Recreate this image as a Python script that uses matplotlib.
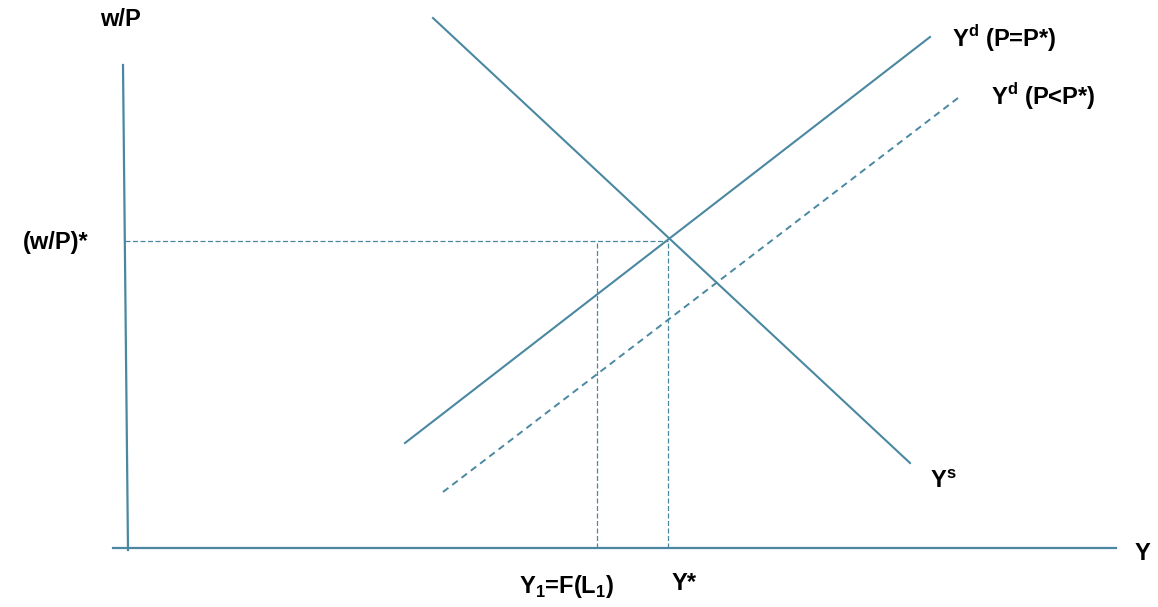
import matplotlib
matplotlib.use("Agg")
import matplotlib.pyplot as plt

plt.rcParams['font.family'] = ['Liberation Sans', 'DejaVu Sans']
plt.rcParams['mathtext.fontset'] = 'custom'
plt.rcParams['mathtext.bf'] = 'Liberation Sans:bold'
plt.rcParams['mathtext.rm'] = 'Liberation Sans:bold'

# Diagram in (Y, w/P) units, origin where the axes cross
ys_curve = ([305, 782], [530, 85])          # oferta Ys
yd_star = ([277, 802], [105, 511])          # Yd (P=P*)
yd_low = ([315, 830], [56, 450])            # Yd (P<P*)
y_star = 540
y_one = 469
w_star = 307

col = '#4a88a2'

fig = plt.figure(figsize=(11.58, 6.07), dpi=100)
ax = fig.add_axes([0, 0, 1, 1])
ax.set_xlim(-128, 1030)
ax.set_ylim(-59, 548)
ax.axis('off')

# Eixos
ax.plot([-5, 0], [483, -2], color=col, lw=1.6)
ax.plot([-15, 988], [0, 0], color=col, lw=1.6)

# Curvas
ax.plot(*ys_curve, color=col, lw=1.5)
ax.plot(*yd_star, color=col, lw=1.5)
ax.plot(*yd_low, color=col, lw=1.4, ls=(0, (3.5, 2.5)))

# Linhas de referência tracejadas
ax.plot([-3, y_star], [w_star, w_star], color=col, lw=0.9, ls=(0, (4, 2)))
ax.plot([y_one, y_one], [0, w_star], color=col, lw=0.9, ls=(0, (4, 2)))
ax.plot([y_star, y_star], [0, w_star], color=col, lw=0.9, ls=(0, (4, 2)))

fs = 17
kw = dict(fontsize=fs, fontweight='bold', color='black')
ax.text(-8, 528, 'w/P', ha='center', va='center', **kw)
ax.text(-40, w_star - 2, '(w/P)*', ha='right', va='center', **kw)
ax.text(824, 510, r'Y$^\mathbf{d}$ (P=P*)', ha='left', va='center', **kw)
ax.text(863, 452, r'Y$^\mathbf{d}$ (P<P*)', ha='left', va='center', **kw)
ax.text(802, 66, r'Y$^\mathbf{s}$', ha='left', va='center', **kw)
ax.text(1007, -5, 'Y', ha='left', va='center', **kw)
ax.text(y_one - 30, -39, r'Y$_\mathbf{1}$=F(L$_\mathbf{1}$)', ha='center', va='center', **kw)
ax.text(y_star + 16, -35, 'Y*', ha='center', va='center', **kw)

fig.savefig('out.png', dpi=100)
